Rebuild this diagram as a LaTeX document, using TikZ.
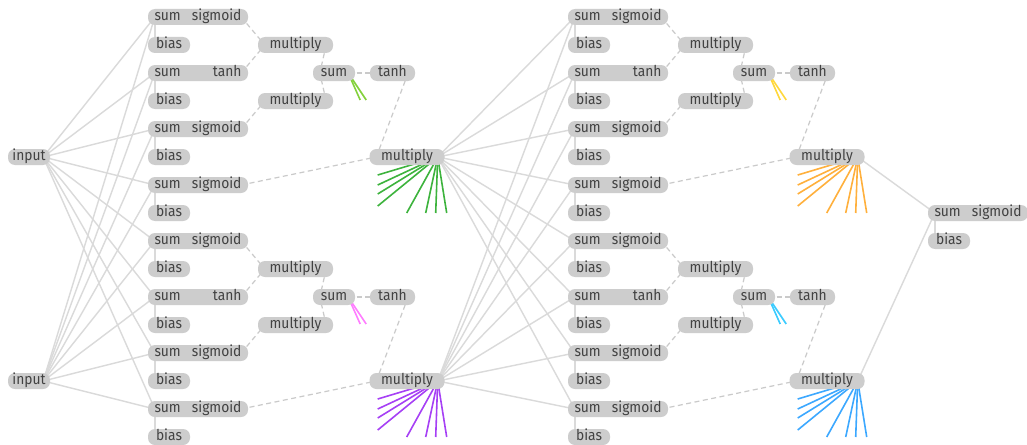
\documentclass[tikz,border=0pt]{standalone}
\usepackage{fontspec}
\setmainfont[FakeStretch=0.92]{Fira Sans}
\usetikzlibrary{backgrounds}
\definecolor{pillgray}{HTML}{CDCDCD}
\definecolor{txtgray}{HTML}{424242}
\definecolor{linkgray}{HTML}{DADADA}
\definecolor{flowgray}{HTML}{CACACA}
\definecolor{limeA}{HTML}{84D13C}
\definecolor{greenA}{HTML}{3DB33D}
\definecolor{pinkB}{HTML}{FF7DFF}
\definecolor{purpleB}{HTML}{A640F5}
\definecolor{yellowC}{HTML}{FFD83C}
\definecolor{orangeC}{HTML}{FFB03C}
\definecolor{cyanD}{HTML}{3CCCFF}
\definecolor{blueD}{HTML}{3CA8FF}

\begin{document}
\begin{tikzpicture}[x=1pt,y=-1pt]

	\tikzstyle{unit}=[
		rectangle,
		rounded corners=7pt,
		fill=pillgray,
		text=txtgray,
		inner sep=0pt,
		minimum height=16pt,
		text height=10pt,
		text depth=3pt,
		font=\fontsize{15}{17}\selectfont
	]
	\tikzstyle{gate}=[unit, minimum width=100pt]
	\tikzstyle{small}=[unit, minimum width=42pt]
	\tikzstyle{wide}=[unit, minimum width=75pt]
	\tikzstyle{link}=[draw=linkgray, line width=1.4pt]
	\tikzstyle{flow}=[draw=flowgray, line width=1.2pt, dash pattern=on 5pt off 3.5pt]
	\tikzstyle{stub}=[line width=1.6pt]

	\useasboundingbox (0,0) rectangle (1027,444);

	% inputs
	\node [small] (in1) at (29,157) {input};
	\node [small] (in2) at (29,381) {input};

	% four memory blocks
	\foreach \b/\dx/\dy in {A/0/0,B/0/224,C/420/0,D/420/224}{
		\node [gate] (\b-g1) at (198+\dx,17+\dy) {\makebox[87pt]{sum\hfill sigmoid}};
		\node [small] (\b-b1) at (169+\dx,45+\dy) {bias};
		\node [gate] (\b-g2) at (198+\dx,73+\dy) {\makebox[87pt]{sum\hfill tanh}};
		\node [small] (\b-b2) at (169+\dx,101+\dy) {bias};
		\node [gate] (\b-g3) at (198+\dx,129+\dy) {\makebox[87pt]{sum\hfill sigmoid}};
		\node [small] (\b-b3) at (169+\dx,157+\dy) {bias};
		\node [gate] (\b-g4) at (198+\dx,185+\dy) {\makebox[87pt]{sum\hfill sigmoid}};
		\node [small] (\b-b4) at (169+\dx,213+\dy) {bias};

		\node [wide] (\b-m1) at (295.5+\dx,45+\dy) {multiply};
		\node [wide] (\b-m2) at (295.5+\dx,101+\dy) {multiply};
		\node [small] (\b-c) at (334+\dx,73+\dy) {sum};
		\node [small, minimum width=45pt] (\b-t) at (392.5+\dx,73+\dy) {tanh};
		\node [wide] (\b-o) at (407+\dx,157+\dy) {multiply};
	}

	% output
	\node [gate] (Y-g) at (978,213) {\makebox[87pt]{sum\hfill sigmoid}};
	\node [small] (Y-b) at (949,241) {bias};

	\begin{scope}[on background layer]
		\fill[white] (0,0) rectangle (1027,444);

		% input layer to first blocks
		\foreach \i in {1,2}
			\foreach \b in {A,B}
				\foreach \j in {1,...,4}
					\draw[link] ([xshift=-7pt]in\i.east) -- ([xshift=7pt]\b-g\j.west);

		% first blocks to second blocks
		\foreach \s in {A,B}
			\foreach \b in {C,D}
				\foreach \j in {1,...,4}
					\draw[link] ([xshift=-7pt]\s-o.east) -- ([xshift=7pt]\b-g\j.west);

		% second blocks to output
		\draw[link] ([xshift=-7pt]C-o.east) -- ([xshift=7pt]Y-g.west);
		\draw[link] ([xshift=-7pt]D-o.east) -- ([xshift=7pt]Y-g.west);
		\draw[link] ([xshift=7pt]Y-b.west) -- ([xshift=7pt]Y-g.west);

		\foreach \b/\cs/\co in {A/limeA/greenA,B/pinkB/purpleB,C/yellowC/orangeC,D/cyanD/blueD}{
			\foreach \j in {1,...,4}
				\draw[link] ([xshift=7pt]\b-b\j.west) -- ([xshift=7pt]\b-g\j.west);

			\draw[flow] ([xshift=-7pt]\b-g1.east) -- ([xshift=7pt]\b-m1.west);
			\draw[flow] ([xshift=-7pt]\b-g2.east) -- ([xshift=7pt]\b-m1.west);
			\draw[flow] ([xshift=-7pt]\b-g3.east) -- ([xshift=7pt]\b-m2.west);
			\draw[flow] ([xshift=-7pt]\b-m1.east) -- ([xshift=7pt]\b-c.west);
			\draw[flow] ([xshift=-7pt]\b-m2.east) -- ([xshift=7pt]\b-c.west);
			\draw[flow] ([xshift=-7pt]\b-c.east) -- ([xshift=7pt]\b-t.west);
			\draw[flow] ([xshift=-7pt]\b-t.east) -- ([xshift=7pt]\b-o.west);
			\draw[flow] ([xshift=-7pt]\b-g4.east) -- ([xshift=7pt]\b-o.west);

			% recurrent stubs
			\foreach \u/\v [count=\k] in {12/27,18/27}{
				\path ([xshift=-7pt]\b-c.east) ++(\u,\v) coordinate (\b-s\k);
				\draw[stub, draw=\cs] ([xshift=-7pt]\b-c.east) -- (\b-s\k);
			}
			\foreach \u/\v [count=\k] in {-60/18,-60/28,-60/37,-60/49,-31/56,-12/56,-2/56,9/56}{
				\path ([xshift=-7pt]\b-o.east) ++(\u,\v) coordinate (\b-r\k);
				\draw[stub, draw=\co] ([xshift=-7pt]\b-o.east) -- (\b-r\k);
			}
		}
	\end{scope}

\end{tikzpicture}
\end{document}
